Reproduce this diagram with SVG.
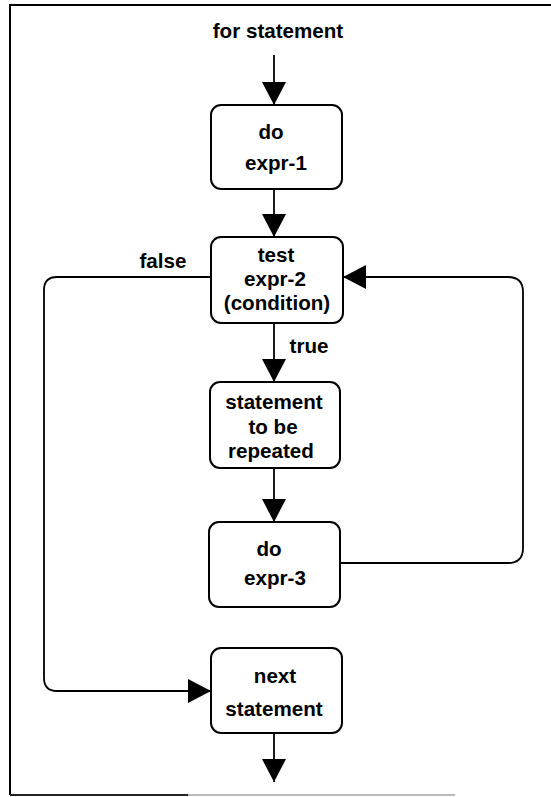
<svg xmlns="http://www.w3.org/2000/svg" width="551" height="797" viewBox="0 0 551 797">
  <defs>
    <marker id="arrow" viewBox="0 0 23 24" refX="23" refY="12" markerWidth="23" markerHeight="24" markerUnits="userSpaceOnUse" orient="auto">
      <path d="M0,0 L23,12 L0,24 Z" fill="#000"/>
    </marker>
  </defs>
  <style>
    .box { fill: #fff; stroke: #000; stroke-width: 2; }
    .edge { fill: none; stroke: #000; stroke-width: 1.8; }
    .lbl { font-family: "Liberation Sans", Arial, Helvetica, sans-serif; font-weight: bold; font-size: 20.6px; fill: #000; text-anchor: middle; }
    .frame { stroke: #000; stroke-width: 2; fill: none; }
  </style>

  <rect width="551" height="797" fill="#fff"/>

  <!-- page frame -->
  <g id="frame">
    <path class="frame" d="M10,795 L10,5 L551,5"/>
    <line x1="10" y1="795" x2="188" y2="795" stroke="#222" stroke-width="2"/>
    <line x1="188" y1="795" x2="455" y2="795" stroke="#bbb" stroke-width="2"/>
  </g>

  <!-- connectors -->
  <g id="connectors">
    <line class="edge" x1="274" y1="55" x2="274" y2="105" marker-end="url(#arrow)"/>
    <line class="edge" x1="274" y1="189" x2="274" y2="237" marker-end="url(#arrow)"/>
    <line class="edge" x1="274" y1="323" x2="274" y2="382" marker-end="url(#arrow)"/>
    <line class="edge" x1="274" y1="468" x2="274" y2="522" marker-end="url(#arrow)"/>
    <line class="edge" x1="274" y1="733" x2="274" y2="782" marker-end="url(#arrow)"/>
    <!-- false branch -->
    <path class="edge" d="M211,277 L57,277 Q44,277 44,290 L44,678 Q44,691 57,691 L211,691" marker-end="url(#arrow)"/>
    <!-- loop back -->
    <path class="edge" d="M340,563 L508,563 Q523,563 523,548 L523,292 Q523,277 508,277 L343,277" marker-end="url(#arrow)"/>
    <text class="lbl" x="163" y="268">false</text>
    <text class="lbl" x="309" y="353">true</text>
  </g>

  <text class="lbl" x="278" y="38">for statement</text>

  <g id="init">
    <rect class="box" x="211" y="105" width="131" height="84" rx="10"/>
    <text class="lbl" x="271" y="139">do</text>
    <text class="lbl" x="276" y="170">expr-1</text>
  </g>

  <g id="test">
    <rect class="box" x="211" y="237" width="132" height="86" rx="10"/>
    <text class="lbl" x="276" y="262">test</text>
    <text class="lbl" x="275" y="286">expr-2</text>
    <text class="lbl" x="277" y="310">(condition)</text>
  </g>

  <g id="body">
    <rect class="box" x="210" y="382" width="130" height="86" rx="10"/>
    <text class="lbl" x="274" y="409">statement</text>
    <text class="lbl" x="273" y="434">to be</text>
    <text class="lbl" x="271" y="458">repeated</text>
  </g>

  <g id="step">
    <rect class="box" x="209" y="522" width="131" height="85" rx="10"/>
    <text class="lbl" x="269" y="556">do</text>
    <text class="lbl" x="275" y="585">expr-3</text>
  </g>

  <g id="next">
    <rect class="box" x="211" y="648" width="131" height="85" rx="10"/>
    <text class="lbl" x="275" y="683">next</text>
    <text class="lbl" x="274" y="716">statement</text>
  </g>
</svg>
